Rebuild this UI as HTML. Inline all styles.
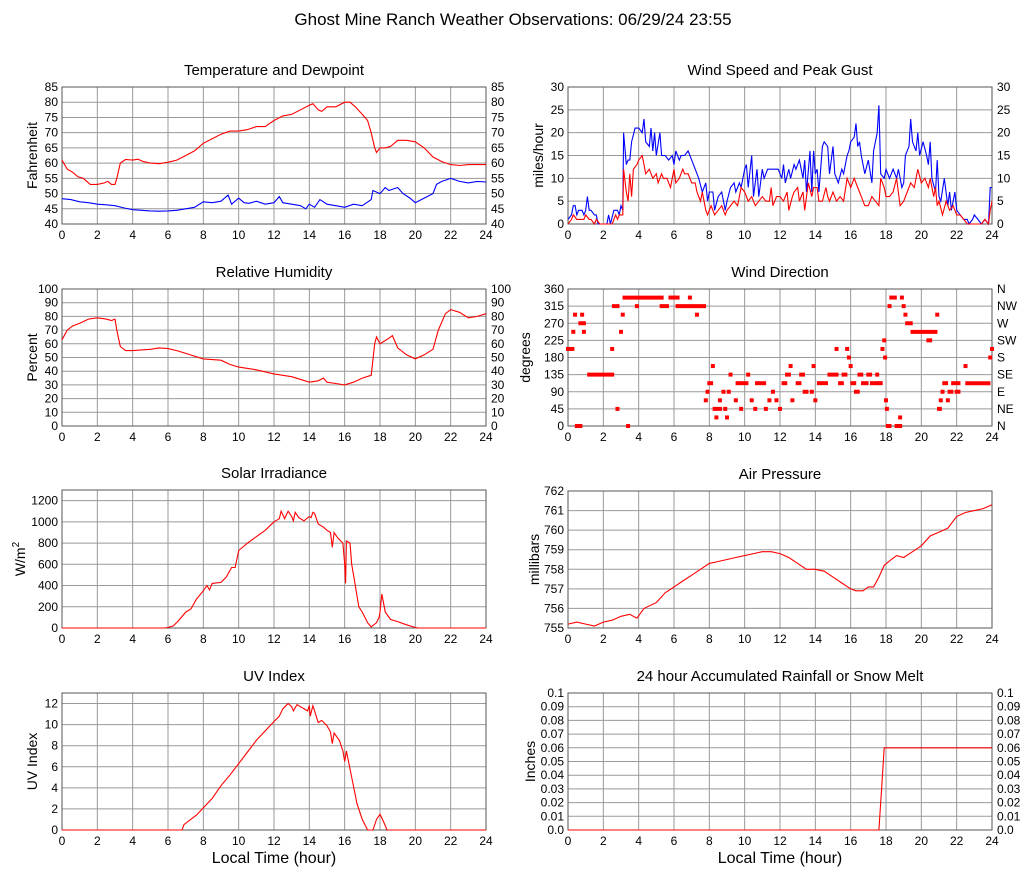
<!DOCTYPE html>
<html><head><meta charset="utf-8"><style>
body{margin:0;background:#fff;}
svg{display:block;font-family:"Liberation Sans",Arial,sans-serif;}
</style></head><body>
<svg id="c" width="1027" height="878" viewBox="0 0 1027 878" xmlns="http://www.w3.org/2000/svg">
<rect width="1027" height="878" fill="#fff"/>
<text x="513" y="25" font-size="17" text-anchor="middle">Ghost Mine Ranch Weather Observations: 06/29/24 23:55</text>
</svg>
<script>
// ---- data ----
const tempT=[0,0.3,0.6,0.9,1.2,1.6,2,2.4,2.6,2.8,3.0,3.1,3.3,3.6,4.0,4.3,4.6,5.0,5.5,6.0,6.5,7,7.5,8,8.5,9,9.5,10,10.5,11,11.5,12,12.5,13,13.5,14,14.2,14.5,14.7,15,15.5,16,16.3,16.6,17,17.3,17.5,17.7,17.8,18,18.3,18.6,19,19.5,20,20.5,21,21.5,22,22.5,23,23.5,24];
const tempV=[61,58,57,55.5,55,53,53,53.5,54,53,53,55,60,61.2,61,61.3,60.5,60,59.8,60.3,61,62.5,64,66.5,68,69.5,70.5,70.5,71,72,72,74,75.5,76,77.5,79,79.5,77.5,77,78.5,78.5,80,80,78.5,76,74,70,65,63.5,65,65,65.5,67.5,67.5,67,65,62,60.5,59.5,59.2,59.5,59.5,59.5];
const dewT=[0,0.5,1,1.5,2,2.5,3,3.5,4,4.5,5,5.5,6,6.5,7,7.5,8,8.5,9,9.4,9.6,10,10.3,10.6,11,11.5,12,12.3,12.5,13,13.5,13.8,14,14.3,14.6,15,15.5,16,16.5,17,17.5,17.6,18,18.3,18.5,19,19.3,19.7,20,20.5,21,21.2,21.5,22,22.5,23,23.5,24];
const dewV=[48.3,48,47.3,47,46.5,46.3,46,45.3,44.7,44.5,44.3,44.2,44.3,44.5,45,45.5,47.3,47,47.5,49.5,46.5,48.5,47,46.8,47.5,46.5,47,49,47,46.5,46,45,46.5,45.5,48,46.5,46,45.5,46.5,46,48,51,50,52,51,52,50,48.5,47,48.5,50,53,54,55,54,53.5,54,53.8];
const gustT=[0,0.2,0.3,0.4,0.5,0.6,0.8,0.9,1.0,1.1,1.2,1.3,1.5,1.6,1.7,2.0,2.2,2.3,2.4,2.6,2.8,2.9,3.0,3.1,3.15,3.3,3.4,3.5,3.6,3.8,4.0,4.2,4.3,4.4,4.6,4.7,4.8,4.9,5.0,5.2,5.3,5.5,5.7,5.9,6.0,6.1,6.3,6.4,6.6,6.8,7.0,7.2,7.4,7.6,7.8,7.9,8.0,8.2,8.3,8.5,8.7,8.8,8.9,9.0,9.2,9.4,9.5,9.7,9.8,10.0,10.1,10.2,10.4,10.5,10.7,10.8,11.0,11.1,11.3,11.5,11.7,11.9,12.1,12.2,12.3,12.5,12.6,12.8,12.9,13.1,13.3,13.4,13.5,13.7,13.8,13.9,14.0,14.1,14.2,14.4,14.5,14.7,14.8,15.0,15.1,15.3,15.5,15.6,15.8,15.9,16.0,16.2,16.3,16.4,16.5,16.6,16.8,17.0,17.2,17.3,17.5,17.6,17.7,17.9,18.0,18.2,18.4,18.6,18.7,18.9,19.0,19.1,19.3,19.4,19.5,19.7,19.8,19.9,20.1,20.3,20.4,20.5,20.6,20.8,20.9,21.0,21.1,21.3,21.5,21.6,21.7,21.9,22.0,22.2,22.4,22.6,22.7,22.9,23.0,23.2,23.4,23.6,23.8,23.9,24.0];
const gustV=[1,2,4,4,2,3,3,2,3,6,3,3,2,2,0,0,0,2,0,3,3,2,4,3,20,13,14,14,18,21,21,20,23,18,17,21,16,20,15,20,15,15,14,15,13,16,14,15,15,16,14,12,10,7,9,5,7,7,3,6,7,5,3,5,8,9,7,9,8,12,13,8,15,6,12,6,12,10,12,12,12,12,10,13,9,12,10,13,12,14,10,14,7,16,7,16,11,12,7,17,18,17,11,17,11,9,12,11,15,16,18,19,22,17,18,15,11,14,9,16,20,26,11,10,12,10,12,10,12,8,9,15,17,23,18,16,20,15,18,15,13,18,10,7,14,6,5,10,4,7,3,7,3,2,1,1,0,1,2,1,0,1,0,8,8];
const windT=[0,0.2,0.3,0.5,0.7,0.9,1.0,1.2,1.3,1.5,1.6,1.8,2.2,2.5,2.6,2.7,2.8,2.9,3.0,3.1,3.15,3.3,3.4,3.5,3.6,3.7,3.9,4.0,4.2,4.3,4.4,4.6,4.8,5.0,5.1,5.3,5.4,5.6,5.8,6.0,6.1,6.3,6.5,6.6,6.8,7.0,7.2,7.3,7.5,7.6,7.8,7.9,8.1,8.3,8.5,8.7,8.9,9.0,9.2,9.4,9.6,9.8,10.0,10.2,10.4,10.6,10.8,11.0,11.2,11.4,11.5,11.6,11.8,12.0,12.2,12.4,12.5,12.7,12.8,13.0,13.1,13.3,13.4,13.6,13.8,13.9,14.1,14.2,14.4,14.6,14.7,14.8,15.0,15.2,15.4,15.6,15.8,16.0,16.2,16.4,16.6,16.8,17.0,17.2,17.4,17.6,17.7,17.9,18.0,18.2,18.4,18.6,18.8,19.0,19.2,19.4,19.6,19.8,20.0,20.2,20.4,20.5,20.7,20.8,20.9,21.0,21.2,21.4,21.6,21.8,22.0,22.2,22.4,22.6,23.0,23.4,23.6,23.8,23.9,24.0];
const windV=[0,1,2,1,1,1,2,1,1,0,1,0,0,0,1,2,1,2,2,2,12,7,5,11,6,12,13,14,15,13,11,12,10,11,9,11,10,10,8,12,9,10,12,11,11,9,9,7,5,7,3,2,4,2,3,4,2,3,4,5,4,8,7,5,6,4,5,6,5,5,8,4,6,6,5,7,3,6,7,8,5,7,3,9,6,8,8,5,5,8,6,5,7,5,6,5,10,8,10,8,6,4,4,6,5,4,10,8,6,6,7,10,4,5,7,9,8,12,9,10,8,10,6,8,4,5,2,5,3,4,2,2,1,0,0,0,1,0,3,5];
const dirStart=[0,0.3,0.4,0.5,0.7,0.8,0.9,1.2,2.5,2.6,2.8,3.0,3.1,3.2,3.4,3.9,5.3,5.8,6.2,6.9,7.3,7.8,7.9,8.0,8.2,8.3,8.4,8.6,8.8,8.9,9.0,9.1,9.2,9.5,9.6,9.8,9.9,10.2,10.4,10.6,10.7,11.2,11.4,11.6,11.8,12.0,12.2,12.4,12.6,12.7,13.0,13.2,13.4,13.8,13.9,14.0,14.2,14.8,15.2,15.4,15.6,15.8,15.9,16.0,16.1,16.3,16.5,16.7,17.0,17.2,17.5,17.6,17.8,17.9,17.95,18.0,18.05,18.1,18.2,18.3,18.6,18.8,18.9,19.0,19.1,19.2,19.5,20.4,20.9,21.0,21.1,21.2,21.3,21.5,21.6,21.8,22.0,22.5,22.6,23.9,24.0];
const dirEnd=[0.25,0.3,0.4,0.7,0.9,0.8,0.9,2.5,2.5,2.8,2.8,3.0,3.1,5.3,3.4,3.9,5.6,6.2,7.7,6.9,7.3,7.8,7.9,8.1,8.2,8.6,8.4,8.6,8.8,8.9,9.0,9.1,9.2,9.5,9.7,9.8,10.1,10.2,10.4,10.6,11.1,11.2,11.4,11.6,11.8,12.0,12.3,12.5,12.6,12.7,13.1,13.3,13.5,13.8,13.9,14.0,14.6,15.2,15.2,15.5,15.7,15.8,15.9,16.0,16.2,16.4,16.6,16.9,17.1,17.5,17.5,17.7,17.8,17.9,17.95,18.0,18.05,18.2,18.2,18.5,18.8,18.8,18.9,19.0,19.1,19.4,20.8,20.5,20.9,21.05,21.1,21.2,21.4,21.5,21.7,22.1,22.1,22.5,23.8,23.9,24.0];
const dirV=[202.5,247.5,292.5,0,270,292.5,247.5,135,202.5,315,45,247.5,292.5,337.5,0,315,315,337.5,315,337.5,292.5,67.5,90,112.5,157.5,45,22.5,67.5,90,45,22.5,90,135,67.5,112.5,45,112.5,135,67.5,45,112.5,45,67.5,90,67.5,45,112.5,135,157.5,67.5,112.5,135,90,90,157.5,67.5,112.5,135,202.5,112.5,135,202.5,180,157.5,112.5,90,135,112.5,135,112.5,135,112.5,202.5,225,180,67.5,45,0,315,337.5,0,22.5,337.5,315,292.5,270,247.5,225,292.5,45,67.5,90,112.5,67.5,90,112.5,90,157.5,112.5,180,202.5];
const rhT=[0,0.3,0.6,1,1.5,2,2.5,2.8,3.0,3.1,3.3,3.6,4,5,5.5,6,6.5,7,8,9,9.5,10,11,12,13,14,14.5,14.8,15,15.5,16,16.5,17,17.5,17.7,17.8,18,18.5,18.7,19,19.5,20,20.5,21,21.3,21.7,22,22.5,23,23.5,24];
const rhV=[63,70,73,75,78,79,78,77,78,70,58,55,55,56,57,56.5,55,53,49,48,45,43,41,38,36,32,33,35,32,31,30,32,35,37,60,65,60,64,66,57,52,49,52,56,70,82,85,83,79,80,82];
const solarT=[0,5.8,6,6.3,6.6,7,7.3,7.6,8,8.2,8.35,8.5,9,9.3,9.6,9.8,10,10.5,11,11.5,12,12.3,12.4,12.6,12.8,13,13.1,13.2,13.4,13.7,14,14.1,14.2,14.3,14.5,14.8,15,15.2,15.3,15.4,15.6,15.9,16,16.05,16.1,16.3,16.4,16.6,16.8,17.0,17.3,17.5,17.8,17.95,18,18.1,18.3,18.6,19,19.5,20,20.2,24];
const solarV=[0,0,5,20,70,150,180,270,350,400,360,420,430,480,570,570,730,800,860,920,1000,1030,1100,1030,1100,1050,1010,1090,1040,1010,1050,1040,1090,1080,980,950,920,900,760,900,850,800,600,420,820,800,600,400,200,150,50,10,50,100,150,320,150,80,60,30,5,0,0];
const presT=[0,0.5,1,1.5,2,2.5,3,3.5,3.9,4.3,5,5.5,6,6.5,7,7.5,8,8.5,9,9.5,10,10.5,11,11.5,12,12.5,13,13.5,14,14.5,15,15.5,16,16.3,16.7,17,17.3,17.6,17.9,18.3,18.6,19,19.5,20,20.5,21,21.5,22,22.5,23,23.5,24];
const presV=[755.2,755.3,755.2,755.1,755.3,755.4,755.6,755.7,755.5,756,756.3,756.8,757.1,757.4,757.7,758,758.3,758.4,758.5,758.6,758.7,758.8,758.9,758.9,758.8,758.6,758.3,758,758,757.9,757.6,757.3,757,756.9,756.9,757.1,757.1,757.6,758.2,758.5,758.7,758.6,758.9,759.2,759.7,759.9,760.1,760.7,760.9,761,761.1,761.3];
const uvT=[0,6.8,6.9,7.2,7.6,8,8.5,9,9.5,10,10.5,11,11.5,12,12.3,12.5,12.8,13,13.1,13.3,13.6,13.9,14,14.05,14.2,14.5,14.7,15,15.2,15.3,15.4,15.7,15.9,16.0,16.1,16.4,16.7,17,17.3,17.6,17.8,18,18.2,18.4,24];
const uvV=[0,0,0.5,0.9,1.4,2.1,3,4.2,5.2,6.3,7.4,8.5,9.4,10.3,10.8,11.5,12,11.7,11.3,11.9,11.6,11.3,11.8,10.8,11.8,10.2,10.4,9.9,9.3,8.2,9.2,8.5,7.5,6.5,7.5,5,2.5,1,0,0,1,1.5,0.8,0,0];
const rainT=[0,17.6,17.75,17.9,24];
const rainV=[0,0,0.03,0.06,0.06];
const xTicks=[0,2,4,6,8,10,12,14,16,18,20,22,24];

// ---- drawing ----
const NS='http://www.w3.org/2000/svg';
const svg=document.getElementById('c');
function mk(tag,attrs,parent){const e=document.createElementNS(NS,tag);for(const k in attrs)e.setAttribute(k,attrs[k]);(parent||svg).appendChild(e);return e;}
function panel(p){
  const g=mk('g',{});
  
  
  const sx=t=>p.x+t/24*p.w, sy=v=>p.y+p.h-(v-p.min)/(p.max-p.min)*p.h;
  p.sx=sx;p.sy=sy;p.g=g;
  xTicks.forEach(t=>{
    const l=mk('line',{x1:sx(t),x2:sx(t),y1:p.y,y2:p.y+p.h,stroke:'#999','stroke-width':1},g);
    
    
    const tx=mk('text',{x:sx(t),y:p.y+p.h+15,'font-size':12,'text-anchor':'middle'},g);
    tx.textContent=t;
    
    
  });
  p.ticks.forEach((v,i)=>{
    const l=mk('line',{x1:p.x,x2:p.x+p.w,y1:sy(v),y2:sy(v),stroke:'#999','stroke-width':1},g);
    
    
    const tx=mk('text',{x:p.x-4,y:sy(v)+4,'font-size':12,'text-anchor':'end'},g);
    tx.textContent=p.labels[i];
    
    
    if(p.rlabels){
      const r=mk('text',{x:p.x+p.w+5,y:sy(v)+4,'font-size':12},g);
      r.textContent=p.rlabels[i];
      
      
    }
  });
  const b=mk('rect',{x:p.x,y:p.y,width:p.w,height:p.h,fill:'none',stroke:'#555','stroke-width':1},g);
  
  
  const ti=mk('text',{x:p.x+p.w/2,y:p.y-12,'font-size':15,'text-anchor':'middle'},g);
  ti.textContent=p.title;
  
  
  const ax=p.x-p.ylx, ay=p.y+p.h/2;
  const yt=mk('text',{x:ax,y:ay,'font-size':14,'text-anchor':'middle',transform:`rotate(-90 ${ax} ${ay})`},g);
  yt.textContent=p.ytitle;
  if(p.sup){const s=mk('tspan',{'font-size':10,dy:-6},yt);s.textContent='2';}
  
  
  if(p.xtitle){
    const xt=mk('text',{x:p.x+p.w/2,y:p.y+p.h+33,'font-size':16,'text-anchor':'middle'},g);
    xt.textContent='Local Time (hour)';
    
    
  }
  return p;
}
function line(p,T,V,color,name){
  const d=T.map((t,i)=>(i?'L':'M')+p.sx(t).toFixed(1)+' '+p.sy(V[i]).toFixed(1)).join(' ');
  const pa=mk('path',{d:d,fill:'none',stroke:color,'stroke-width':1.1},p.g);
  
  
}
function rng(a,b,s){const r=[];for(let v=a;v<=b+1e-9;v+=s)r.push(+v.toFixed(3));return r;}

const L=62,R=568,W=424,H=137;
const tp=panel({name:'temperature-panel',title:'Temperature and Dewpoint',x:L,y:87,w:W,h:H,min:40,max:85,ticks:rng(40,85,5),labels:rng(40,85,5),rlabels:rng(40,85,5),ytitle:'Fahrenheit',ylx:25});
line(tp,tempT,tempV,'#f00','temperature-line');
line(tp,dewT,dewV,'#00f','dewpoint-line');

const wp=panel({name:'wind-speed-panel',title:'Wind Speed and Peak Gust',x:R,y:87,w:W,h:H,min:0,max:30,ticks:rng(0,30,5),labels:rng(0,30,5),rlabels:rng(0,30,5),ytitle:'miles/hour',ylx:25});
line(wp,gustT,gustV,'#00f','peak-gust-line');
line(wp,windT,windV,'#f00','wind-speed-line');

const rp=panel({name:'humidity-panel',title:'Relative Humidity',x:L,y:289,w:W,h:H,min:0,max:100,ticks:rng(0,100,10),labels:rng(0,100,10),rlabels:rng(0,100,10),ytitle:'Percent',ylx:25});
line(rp,rhT,rhV,'#f00','humidity-line');

const dp=panel({name:'wind-direction-panel',title:'Wind Direction',x:R,y:289,w:W,h:H,min:0,max:360,ticks:rng(0,360,45),labels:rng(0,360,45),rlabels:['N','NE','E','SE','S','SW','W','NW','N'],ytitle:'degrees',ylx:38});
dirV.forEach((v,i)=>{
  const x1=dp.sx(dirStart[i]),x2=dp.sx(dirEnd[i]),y=dp.sy(v);
  const m=mk('line',{x1:x1,x2:x2,y1:y,y2:y,stroke:'#f00','stroke-width':4,'stroke-linecap':'square'},dp.g);
  
  
});

const sp=panel({name:'solar-panel',title:'Solar Irradiance',x:L,y:490,w:W,h:H+1,min:0,max:1300,ticks:rng(0,1200,200),labels:rng(0,1200,200),ytitle:'W/m',sup:true,ylx:37});
line(sp,solarT,solarV,'#f00','solar-line');

const pp=panel({name:'pressure-panel',title:'Air Pressure',x:R,y:491,w:W,h:H,min:755,max:762,ticks:rng(755,762,1),labels:rng(755,762,1),ytitle:'millibars',ylx:29});
line(pp,presT,presV,'#f00','pressure-line');

const up=panel({name:'uv-panel',title:'UV Index',x:L,y:693,w:W,h:H,min:0,max:13,ticks:rng(0,12,2),labels:rng(0,12,2),ytitle:'UV Index',ylx:25,xtitle:true});
line(up,uvT,uvV,'#f00','uv-line');

const rl=rng(0,0.1,0.01).map(v=>v===0?'0.0':String(v));
const np=panel({name:'rainfall-panel',title:'24 hour Accumulated Rainfall or Snow Melt',x:R,y:693,w:W,h:H,min:0,max:0.1,ticks:rng(0,0.1,0.01),labels:rl,rlabels:rl,ytitle:'Inches',ylx:33,xtitle:true});
line(np,rainT,rainV,'#f00','rainfall-line');
</script>
</body></html>
